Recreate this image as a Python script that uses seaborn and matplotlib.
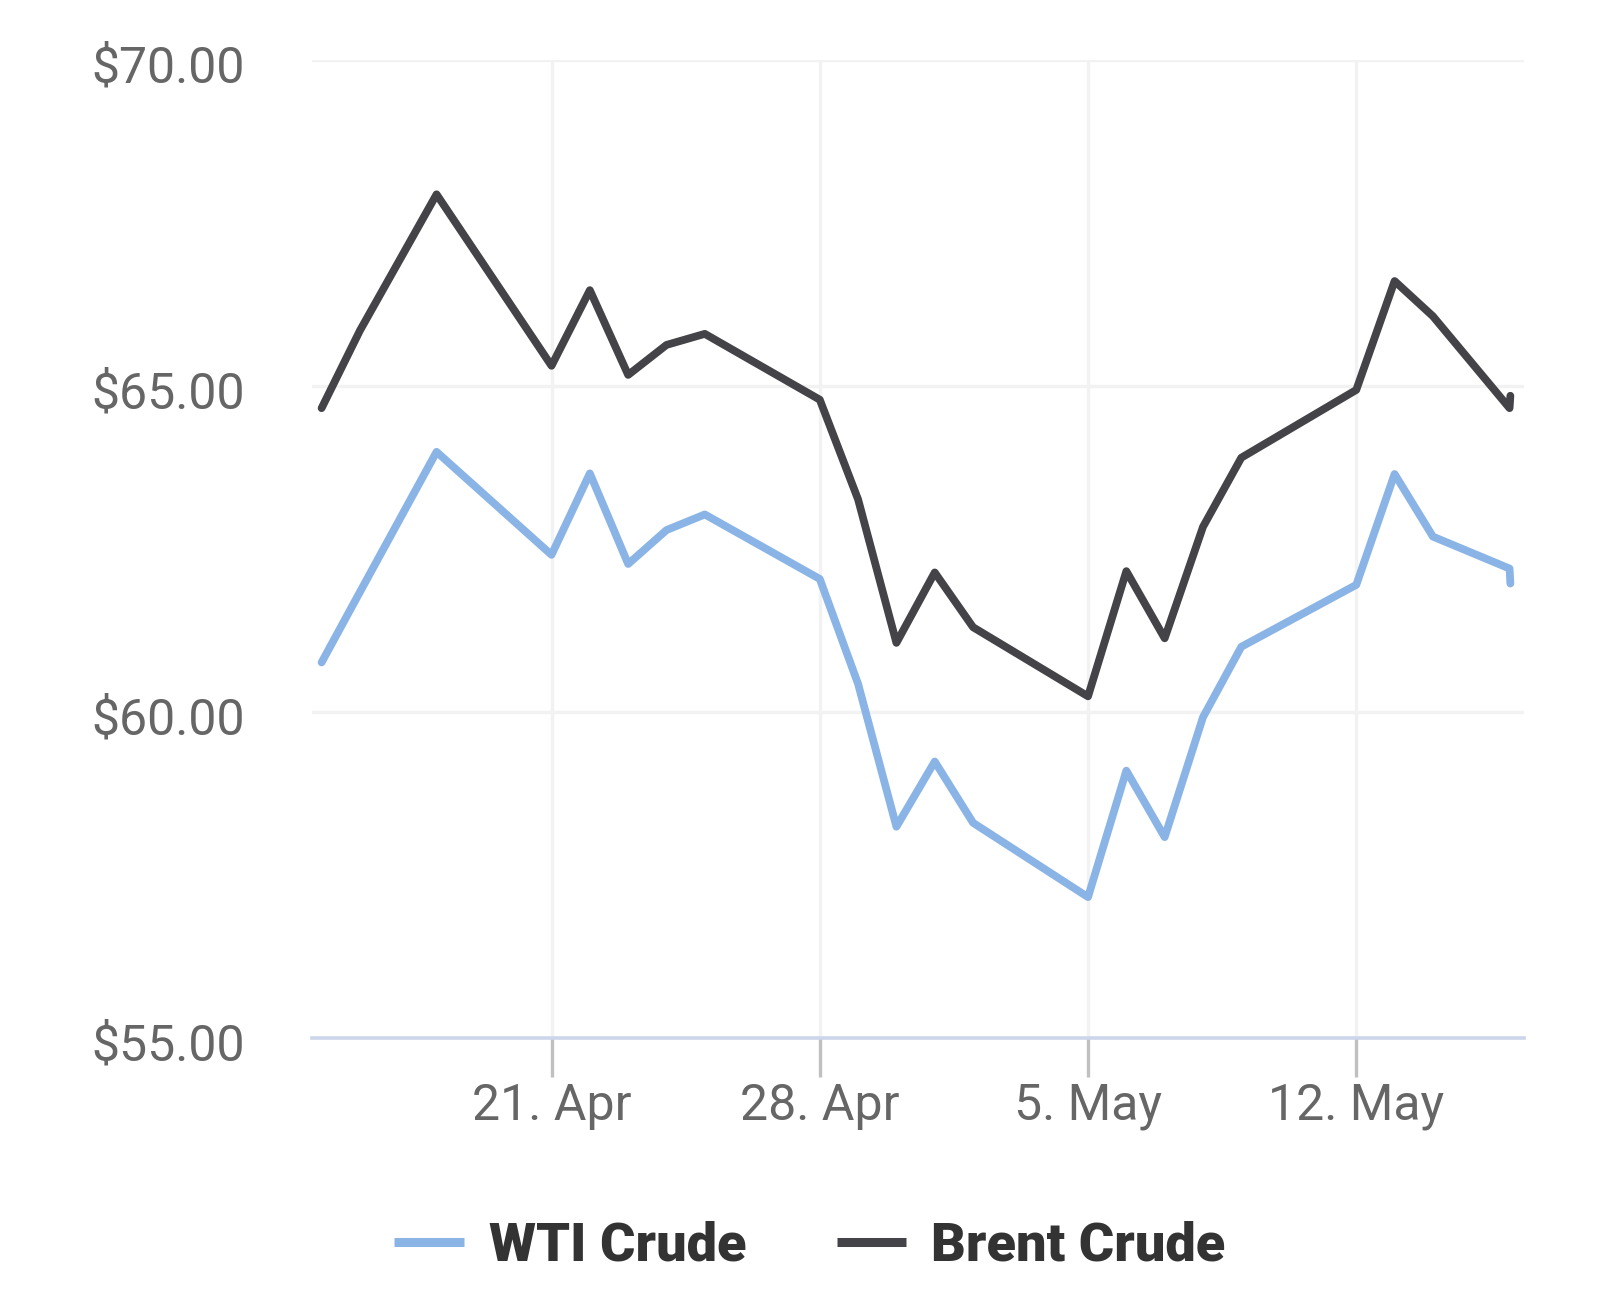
import matplotlib
matplotlib.use("Agg")
import matplotlib.pyplot as plt
import matplotlib.dates as mdates
import matplotlib.transforms as mtransforms
import pandas as pd
import seaborn as sns

# daily closing prices (USD per barrel)
dates = ["2025-04-15 00:00", "2025-04-16 00:00", "2025-04-18 00:00", "2025-04-21 00:00",
         "2025-04-22 00:00", "2025-04-23 00:00", "2025-04-24 00:00", "2025-04-25 00:00",
         "2025-04-28 00:00", "2025-04-29 00:00", "2025-04-30 00:00", "2025-05-01 00:00",
         "2025-05-02 00:00", "2025-05-05 00:00", "2025-05-06 00:00", "2025-05-07 00:00",
         "2025-05-08 00:00", "2025-05-09 00:00", "2025-05-12 00:00", "2025-05-13 00:00",
         "2025-05-14 00:00", "2025-05-16 00:00", "2025-05-16 00:30"]
wti = [60.76, 61.84, 63.99, 62.41, 63.66, 62.27, 62.79, 63.03, 62.04, 60.43,
       58.24, 59.24, 58.30, 57.16, 59.10, 58.08, 59.92, 61.00, 61.95, 63.65,
       62.69, 62.20, 61.97]
brent = [64.66, 65.85, 67.94, 65.31, 66.47, 65.17, 65.63, 65.80, 64.79, 63.26,
         61.06, 62.14, 61.30, 60.24, 62.16, 61.13, 62.84, 63.90, 64.94, 66.61,
         66.07, 64.66, 64.85]
series_names = ["WTI Crude", "Brent Crude"]
series_colors = ["#8ab4e6", "#434348"]
y_ticks = [55, 60, 65, 70]
x_ticks = ["2025-04-21", "2025-04-28", "2025-05-05", "2025-05-12"]


def main():
    when = pd.to_datetime(dates, format="%Y-%m-%d %H:%M")
    df = pd.concat([
        pd.DataFrame({"date": when, "price": wti, "series": series_names[0]}),
        pd.DataFrame({"date": when, "price": brent, "series": series_names[1]}),
    ])

    sns.set_style("white")
    plt.rcParams["font.family"] = ["Roboto", "DejaVu Sans"]
    plt.rcParams["lines.solid_joinstyle"] = "round"
    plt.rcParams["lines.solid_capstyle"] = "round"

    fig = plt.figure(figsize=(16.2, 13.02), dpi=100)
    ax = fig.add_axes([0.1926, 0.2028, 0.7481, 0.7511])

    sns.lineplot(data=df, x="date", y="price", hue="series",
                 palette=dict(zip(series_names, series_colors)),
                 estimator=None, sort=False, linewidth=5.6, ax=ax)
    for ln in ax.lines:
        ln.set_linewidth(5.6)
        ln.set_solid_joinstyle("round")
        ln.set_solid_capstyle("round")

    ax.set_ylim(55, 70)
    ax.set_xlim(pd.Timestamp("2025-04-14 18:00"), pd.Timestamp("2025-05-16 09:00"))
    ax.set_yticks(y_ticks)
    ax.set_yticklabels([f"${v:.2f}" for v in y_ticks])
    ax.set_xticks(pd.to_datetime(x_ticks))
    ax.xaxis.set_major_formatter(mdates.DateFormatter("%-d. %b"))

    ax.grid(True, color="#f2f2f2", linewidth=2.4)
    ax.set_axisbelow(True)
    for side in ["top", "right", "left"]:
        ax.spines[side].set_visible(False)
    ax.spines["bottom"].set_color("#ccd6eb")
    ax.spines["bottom"].set_linewidth(2.6)

    ax.tick_params(axis="y", left=False, length=0, pad=48, labelsize=36, labelcolor="#666666")
    ax.tick_params(axis="x", bottom=True, direction="out", length=28, width=2.4,
                   color="#c0c0c0", pad=4, labelsize=36, labelcolor="#666666")
    # highcharts puts y labels a bit below the grid line
    shift = mtransforms.ScaledTranslation(0, -3.5 / 100, fig.dpi_scale_trans)
    for lab in ax.get_yticklabels():
        lab.set_transform(lab.get_transform() + shift)
    ax.set_xlabel("")
    ax.set_ylabel("")

    handles, labels = ax.get_legend_handles_labels()
    ax.legend_.remove()
    for h in handles:
        h.set_linewidth(6.5)
        h.set_solid_capstyle("butt")
    fig.legend(handles, labels, loc="center", bbox_to_anchor=(0.5, 0.043),
               ncol=2, frameon=False, handlelength=1.28, handletextpad=0.46,
               columnspacing=1.68,
               prop={"family": ["Roboto", "DejaVu Sans"], "weight": "heavy", "size": 39})
    for t in fig.legends[0].get_texts():
        t.set_color("#333333")

    fig.savefig("out.png", dpi=100, facecolor="white")


if __name__ == "__main__":
    main()
